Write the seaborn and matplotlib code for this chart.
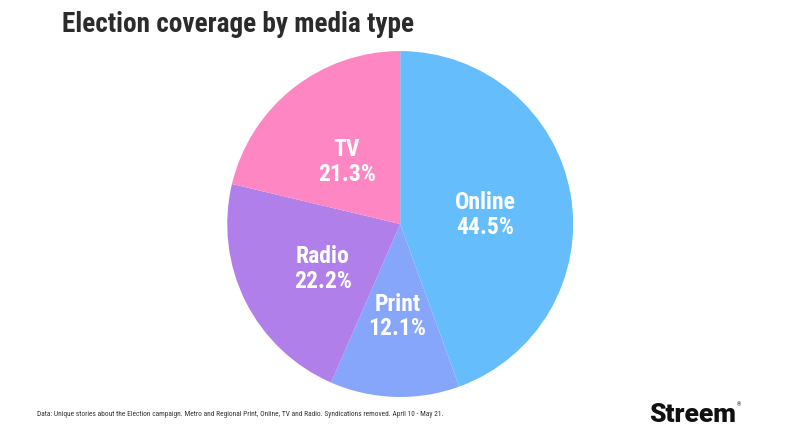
import matplotlib
matplotlib.use('Agg')
import matplotlib.pyplot as plt
import seaborn as sns

# Data
media = ['Online', 'Print', 'Radio', 'TV']
share = [44.5, 12.1, 22.2, 21.3]
colours = ['#66bdfb', '#86a6fc', '#b07fea', '#fe86c2']

sns.set_theme(style='white')
plt.rcParams['font.family'] = ['Roboto Condensed', 'Roboto', 'DejaVu Sans']

fig = plt.figure(figsize=(8, 4.34), dpi=100)
ax = fig.add_axes([0.284, 0.0853, 0.4325, 0.797])

labels = [f'{m}\n{v:.1f}%' for m, v in zip(media, share)]
wedges, texts = ax.pie(share, labels=labels, colors=sns.color_palette(colours),
                       startangle=90, counterclock=False, labeldistance=0.5,
                       wedgeprops=dict(linewidth=0))
for t in texts:
    t.set_color('white')
    t.set_fontweight('bold')
    t.set_fontsize(17)
    t.set_ha('center')
    t.set_va('center')
    t.set_linespacing(1.1)
    t.set_y(t.get_position()[1] - 0.035)
ax.set_xlim(-1, 1)
ax.set_ylim(-1, 1)
ax.set_aspect('equal')

# Title
fig.text(62 / 800, 1 - 25 / 434, 'Election coverage by media type',
         fontsize=19.6, fontweight='bold', color='#2b2b2b', va='center', ha='left')

# Footer
fig.text(37 / 800, 1 - 414 / 434,
         'Data: Unique stories about the Election campaign. Metro and Regional Print, '
         'Online, TV and Radio. Syndications removed. April 10 - May 21.',
         fontsize=5.3, color='#333333', va='center', ha='left')

# Logo
fig.text(649 / 800, 1 - 415 / 434, 'Streem', fontsize=19, fontweight='heavy',
         color='#111111', va='center', ha='left', family=['Roboto', 'DejaVu Sans'])
fig.text(737 / 800, 1 - 405 / 434, '®', fontsize=4, color='#111111',
         va='center', ha='left', family=['Roboto', 'DejaVu Sans'])

fig.savefig('out.png', dpi=100, facecolor='white')
